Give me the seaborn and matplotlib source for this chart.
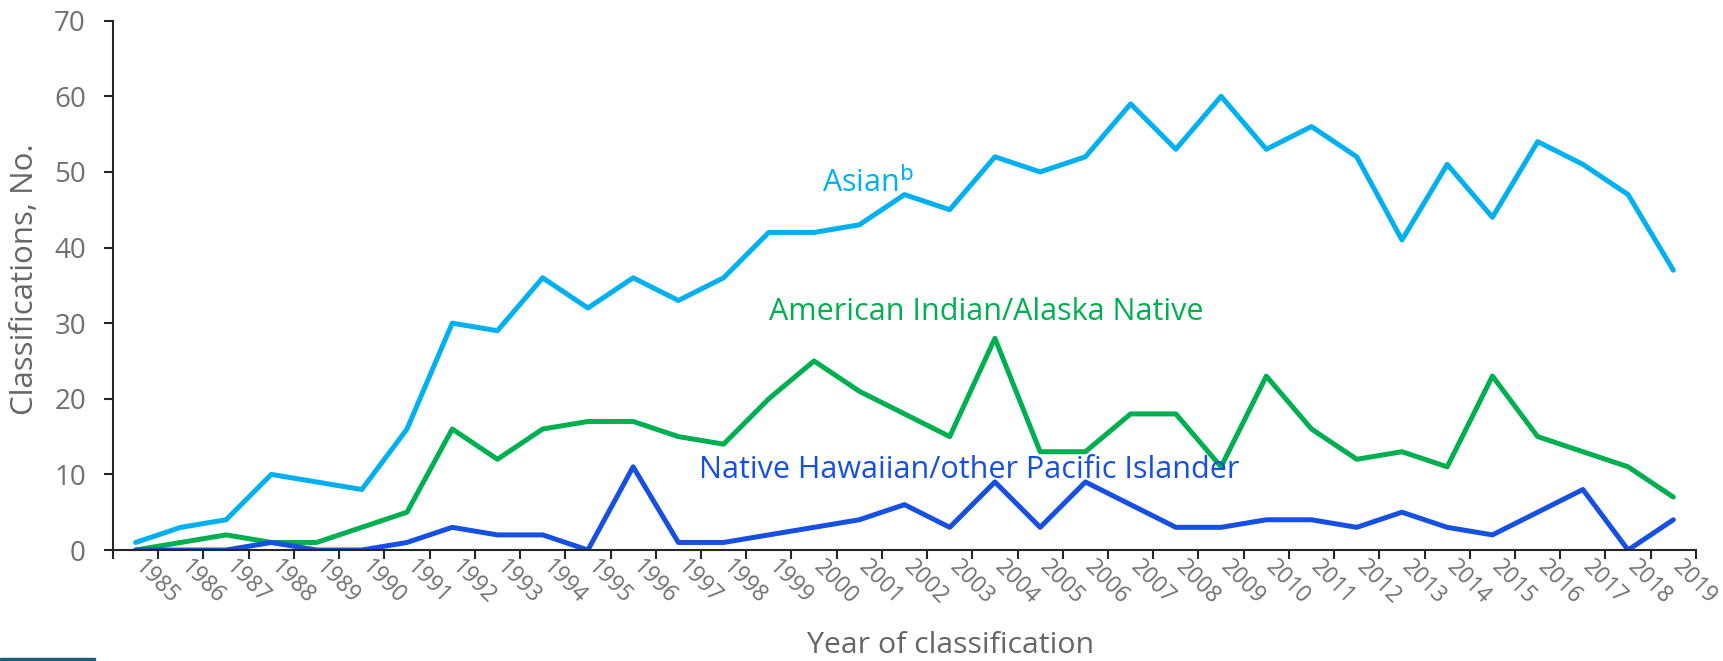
import numpy as np
import pandas as pd
import matplotlib
matplotlib.use("Agg")
import matplotlib.pyplot as plt
import matplotlib.transforms as mtransforms
from matplotlib.patches import Rectangle
import seaborn as sns

# data
years = [str(y) for y in range(1985, 2020)]
asian = [1, 3, 4, 10, 9, 8, 16, 30, 29, 36, 32, 36, 33, 36, 42, 42, 43, 47, 45, 52,
         50, 52, 59, 53, 60, 53, 56, 52, 41, 51, 44, 54, 51, 47, 37]
aian = [0, 1, 2, 1, 1, 3, 5, 16, 12, 16, 17, 17, 15, 14, 20, 25, 21, 18, 15, 28,
        13, 13, 18, 18, 11, 23, 16, 12, 13, 11, 23, 15, 13, 11, 7]
nhpi = [0, 0, 0, 1, 0, 0, 1, 3, 2, 2, 0, 11, 1, 1, 2, 3, 4, 6, 3, 9,
        3, 9, 6, 3, 3, 4, 4, 3, 5, 3, 2, 5, 8, 0, 4]
groups = ["Asian", "American Indian/Alaska Native", "Native Hawaiian/other Pacific Islander"]
colors = ["#00B0F0", "#00B050", "#1650E0"]
y_ticks = [0, 10, 20, 30, 40, 50, 60, 70]

sns.set_theme(style="white")
plt.rcParams["font.family"] = ["Open Sans", "DejaVu Sans"]

pos = np.arange(len(years))
df = pd.DataFrame({
    "pos": np.tile(pos, 3),
    "count": asian + aian + nhpi,
    "group": np.repeat(groups, len(years)),
})

fig = plt.figure(figsize=(17.23, 6.61), dpi=100)
ax = fig.add_axes([0.0656, 0.1679, 0.9843 - 0.0656, 0.9687 - 0.1679])

sns.lineplot(data=df, x="pos", y="count", hue="group", hue_order=groups,
             palette=colors, linewidth=3.6, legend=False, ax=ax,
             solid_capstyle="round")

ax.set_xlim(-0.5, len(years) - 0.5)
ax.set_ylim(0, 70)

# category boundaries as major ticks, labels on minor ticks at centres
ax.set_xticks(np.arange(-0.5, len(years)), labels=[""] * (len(years) + 1))
ax.set_xticks(pos, labels=years, minor=True)
ax.tick_params(axis="x", which="major", direction="out", length=6.5, width=1.5,
               color="#262626", bottom=True)
ax.tick_params(axis="x", which="minor", length=0, pad=10, labelsize=16.5,
               labelcolor="#707070")
shift = mtransforms.ScaledTranslation(3 / 100, 0, fig.dpi_scale_trans)
for lab in ax.get_xticklabels(minor=True):
    lab.set_rotation(-45)
    lab.set_ha("left")
    lab.set_va("center")
    lab.set_rotation_mode("anchor")
    lab.set_transform(lab.get_transform() + shift)

ax.set_yticks(y_ticks)
ax.tick_params(axis="y", direction="out", length=6.5, width=1.5, color="#262626",
               left=True, labelsize=20, labelcolor="#707070", pad=13)

for side in ["top", "right"]:
    ax.spines[side].set_visible(False)
for side in ["left", "bottom"]:
    ax.spines[side].set_color("#262626")
    ax.spines[side].set_linewidth(1.5)

ax.set_xlabel("Year of classification", fontsize=21.8, color="#666666")
ax.xaxis.set_label_coords(0.529, -0.18)
ax.xaxis.label.set_va("center")
ax.set_ylabel("Classifications, No.", fontsize=22.5, color="#666666")
ax.yaxis.set_label_coords(-0.0556, 0.512)
ax.yaxis.label.set_va("center")

# series labels
ax.text(15.17, 48.6, r"Asian$^{\mathrm{b}}$", color=colors[0], fontsize=22, va="center")
ax.text(14.0, 31.5, groups[1], color=colors[1], fontsize=22, va="center")
ax.text(12.46, 10.6, groups[2], color=colors[2], fontsize=22, va="center")

# cut-off element at bottom-left of the original
fig.patches.append(Rectangle((0, 0), 95 / 1723, 3 / 661, transform=fig.transFigure,
                             color="#1F5A7A", zorder=5))

fig.savefig("out.png", dpi=100)
